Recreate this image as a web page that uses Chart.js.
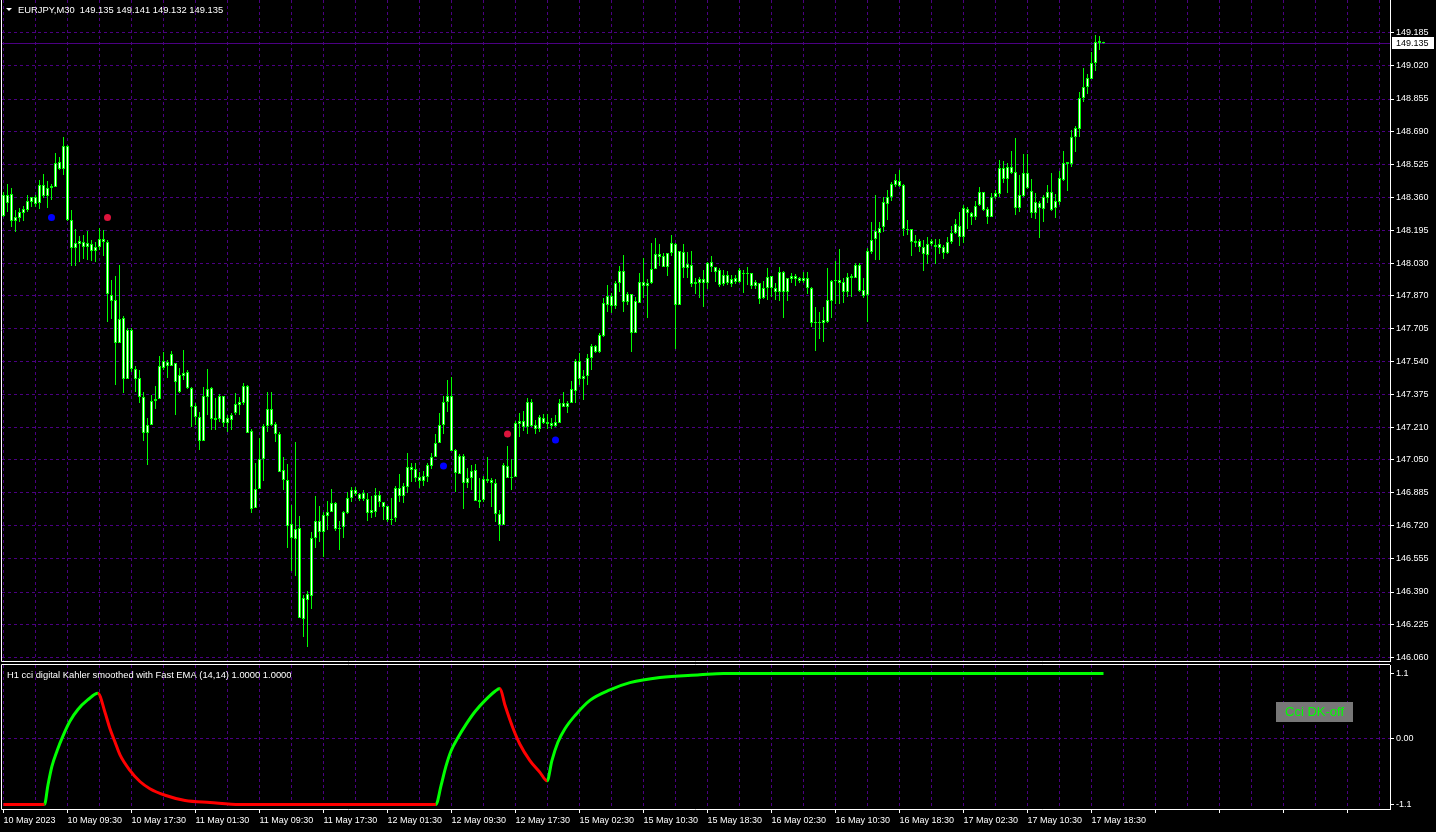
<!DOCTYPE html>
<html>
<head>
<meta charset="utf-8">
<title>EURJPY,M30</title>
<script src="https://cdn.jsdelivr.net/npm/chart.js@4.4.0/dist/chart.umd.min.js"></script>
<style>
  html, body { margin: 0; padding: 0; background: #000; }
  body { width: 1436px; height: 832px; position: relative; overflow: hidden; }
  #priceChart { position: absolute; left: 0; top: 0; }
  #cciChart { position: absolute; left: 0; top: 662px; }
</style>
</head>
<body>
<canvas id="priceChart" width="1436" height="662"></canvas>
<canvas id="cciChart" width="1436" height="170"></canvas>
<script>
const symbol = "EURJPY,M30";

// one label every 16 bars (8 hours of M30)
const timeLabels = ["10 May 2023", "10 May 09:30", "10 May 17:30", "11 May 01:30", "11 May 09:30",
  "11 May 17:30", "12 May 01:30", "12 May 09:30", "12 May 17:30", "15 May 02:30", "15 May 10:30",
  "15 May 18:30", "16 May 02:30", "16 May 10:30", "16 May 18:30", "17 May 02:30", "17 May 10:30",
  "17 May 18:30"];

const priceTicks = [146.060, 146.225, 146.390, 146.555, 146.720, 146.885, 147.050, 147.210, 147.375,
  147.540, 147.705, 147.870, 148.030, 148.195, 148.360, 148.525, 148.690, 148.855, 149.020, 149.185];

const open = [148.270,148.375,148.380,148.245,148.260,148.285,148.300,148.340,148.330,148.335,
148.425,148.370,148.410,148.415,148.505,148.505,148.620,148.250,148.110,148.145,
148.140,148.135,148.130,148.095,148.115,148.155,148.140,147.875,147.850,147.635,
147.760,147.455,147.700,147.505,147.460,147.365,147.185,147.225,147.345,147.355,
147.510,147.520,147.580,147.535,147.390,147.485,147.490,147.410,147.320,147.265,
147.145,147.405,147.410,147.250,147.255,147.370,147.235,147.250,147.285,147.325,
147.335,147.420,147.195,146.810,146.905,147.055,147.220,147.305,147.230,147.180,
147.000,146.950,146.730,146.655,146.710,146.255,146.350,146.370,146.660,146.690,
146.690,146.770,146.790,146.835,146.705,146.715,146.785,146.860,146.900,146.880,
146.885,146.855,146.785,146.790,146.875,146.840,146.820,146.750,146.760,146.870,
146.870,146.915,147.015,147.005,146.945,146.945,146.965,147.020,147.065,147.135,
147.225,147.340,147.370,147.100,146.980,147.070,146.935,146.995,147.000,146.840,
146.850,146.955,146.950,146.935,146.780,146.725,147.020,146.960,146.965,147.245,
147.215,147.215,147.340,147.205,147.205,147.260,147.240,147.220,147.220,147.235,
147.315,147.315,147.335,147.395,147.545,147.455,147.470,147.560,147.590,147.590,
147.670,147.825,147.820,147.820,147.935,147.995,147.840,147.880,147.685,147.835,
147.940,147.920,147.935,148.005,148.080,148.070,148.015,148.085,148.130,147.825,
148.090,148.030,148.025,147.930,147.935,147.935,147.935,148.040,148.015,148.000,
147.930,147.975,147.930,147.940,147.940,147.985,147.980,147.985,147.940,147.935,
147.860,147.910,147.970,147.890,147.890,147.990,147.890,147.955,147.970,147.945,
147.960,147.960,147.910,147.740,147.735,147.735,147.740,147.845,147.945,147.950,
147.940,147.890,147.960,147.960,148.025,147.900,147.875,148.090,148.155,148.185,
148.215,148.330,148.365,148.425,148.445,148.425,148.205,148.205,148.145,148.145,
148.115,148.075,148.130,148.125,148.110,148.115,148.085,148.140,148.185,148.220,
148.165,148.305,148.285,148.265,148.325,148.390,148.305,148.265,148.365,148.380,
148.510,148.455,148.515,148.490,148.310,148.370,148.485,148.395,148.285,148.310,
148.305,148.360,148.390,148.310,148.340,148.450,148.530,148.530,148.665,148.705,
148.860,148.915,148.955,149.035,149.145,149.135];

const high = [148.390,148.430,148.410,148.300,148.310,148.320,148.375,148.365,148.375,148.450,
148.480,148.445,148.430,148.585,148.565,148.665,148.625,148.300,148.205,148.170,
148.175,148.195,148.150,148.140,148.210,148.200,148.150,147.950,147.970,148.025,
147.770,147.710,147.710,147.520,147.500,147.390,147.260,147.375,147.420,147.570,
147.590,147.550,147.595,147.535,147.510,147.600,147.500,147.415,147.335,147.290,
147.415,147.505,147.415,147.360,147.380,147.370,147.275,147.285,147.385,147.365,
147.435,147.425,147.205,147.035,147.160,147.230,147.390,147.390,147.240,147.190,
147.065,147.030,146.825,147.140,146.770,146.375,146.395,146.690,146.870,146.820,
146.790,146.845,146.905,146.840,146.745,146.795,146.890,146.915,146.915,146.885,
146.900,146.885,146.870,146.910,146.895,146.840,146.820,146.860,146.920,146.980,
146.935,147.085,147.035,147.035,146.990,146.995,147.035,147.085,147.180,147.285,
147.370,147.450,147.465,147.105,147.080,147.080,147.010,147.025,147.030,146.960,
146.970,147.065,146.960,146.955,146.800,147.035,147.120,147.055,147.245,147.285,
147.295,147.360,147.355,147.250,147.275,147.280,147.280,147.260,147.275,147.355,
147.390,147.345,147.445,147.555,147.585,147.500,147.580,147.630,147.625,147.685,
147.860,147.925,147.885,147.945,148.020,148.075,147.890,147.880,147.865,147.985,
148.060,147.955,148.135,148.160,148.130,148.085,148.085,148.175,148.135,148.095,
148.130,148.090,148.095,147.960,147.965,148.000,148.040,148.070,148.015,148.010,
148.000,147.995,147.975,147.975,148.010,148.000,148.015,147.985,147.950,147.935,
147.945,148.010,147.970,147.935,148.015,147.995,147.960,147.985,147.980,147.965,
147.990,147.990,147.915,147.815,147.790,147.815,148.010,147.950,148.045,148.105,
147.960,147.985,147.980,148.035,148.035,147.960,148.110,148.240,148.375,148.240,
148.365,148.400,148.440,148.480,148.500,148.430,148.250,148.205,148.175,148.155,
148.150,148.165,148.155,148.155,148.155,148.125,148.165,148.220,148.255,148.290,
148.325,148.315,148.290,148.345,148.415,148.390,148.315,148.385,148.400,148.550,
148.545,148.535,148.595,148.660,148.475,148.580,148.580,148.455,148.385,148.345,
148.375,148.425,148.485,148.380,148.495,148.595,148.540,148.700,148.720,148.890,
149.010,148.980,149.090,149.175,149.170,149.141];

const low = [148.265,148.290,148.215,148.190,148.240,148.245,148.290,148.315,148.315,148.305,
148.360,148.310,148.350,148.415,148.500,148.475,148.245,148.020,148.020,148.040,
148.055,148.050,148.045,148.040,148.100,148.070,147.740,147.755,147.425,147.635,
147.385,147.455,147.490,147.390,147.335,147.145,147.025,147.225,147.305,147.355,
147.500,147.460,147.520,147.275,147.385,147.450,147.405,147.215,147.225,147.100,
147.145,147.275,147.200,147.200,147.240,147.215,147.190,147.200,147.275,147.275,
147.325,147.185,146.785,146.810,146.905,146.945,147.190,147.220,147.140,146.990,
146.900,146.610,146.495,146.470,146.260,146.165,146.115,146.305,146.610,146.640,
146.565,146.700,146.790,146.695,146.600,146.660,146.780,146.840,146.870,146.845,
146.845,146.745,146.760,146.765,146.815,146.750,146.740,146.725,146.740,146.840,
146.835,146.885,146.940,146.940,146.910,146.920,146.940,147.005,147.065,147.135,
147.180,147.290,147.095,146.890,146.980,146.805,146.910,146.900,146.845,146.810,
146.840,146.935,146.815,146.740,146.645,146.725,146.960,146.900,146.965,147.165,
147.195,147.180,147.215,147.180,147.190,147.230,147.205,147.205,147.215,147.235,
147.315,147.285,147.335,147.335,147.425,147.350,147.425,147.500,147.585,147.585,
147.665,147.790,147.785,147.805,147.890,147.790,147.825,147.590,147.685,147.835,
147.860,147.760,147.930,148.005,148.020,148.015,147.970,148.070,147.605,147.825,
147.960,147.960,147.915,147.880,147.860,147.815,147.905,147.990,147.940,147.915,
147.920,147.925,147.915,147.930,147.935,147.885,147.925,147.905,147.905,147.830,
147.855,147.850,147.865,147.850,147.845,147.760,147.845,147.935,147.920,147.935,
147.935,147.880,147.715,147.595,147.655,147.640,147.735,147.760,147.830,147.830,
147.835,147.865,147.865,147.960,147.890,147.860,147.740,148.080,148.050,148.050,
148.190,148.250,148.345,148.415,148.415,148.170,148.175,148.070,148.115,148.090,
147.995,148.030,148.120,148.030,148.080,148.055,148.080,148.130,148.180,148.120,
148.135,148.205,148.225,148.250,148.320,148.295,148.230,148.265,148.355,148.365,
148.435,148.385,148.480,148.275,148.290,148.365,148.405,148.260,148.255,148.160,
148.240,148.335,148.295,148.260,148.325,148.445,148.395,148.515,148.590,148.665,
148.840,148.880,148.955,148.995,149.100,149.132];

const close = [148.375,148.335,148.245,148.265,148.290,148.305,148.345,148.365,148.365,148.425,
148.370,148.410,148.420,148.535,148.540,148.620,148.250,148.110,148.135,148.130,
148.115,148.115,148.095,148.115,148.155,148.140,147.880,147.845,147.635,147.755,
147.455,147.700,147.505,147.455,147.365,147.185,147.225,147.345,147.355,147.520,
147.545,147.540,147.520,147.440,147.475,147.470,147.410,147.315,147.265,147.145,
147.370,147.365,147.255,147.260,147.370,147.235,147.260,147.275,147.330,147.340,
147.420,147.185,146.805,146.905,147.055,147.220,147.305,147.225,147.180,146.990,
146.950,146.720,146.660,146.705,146.260,146.360,146.380,146.660,146.745,146.745,
146.775,146.790,146.835,146.705,146.710,146.790,146.860,146.900,146.880,146.855,
146.855,146.785,146.800,146.875,146.840,146.815,146.750,146.755,146.910,146.910,
146.920,147.015,147.000,146.960,146.965,146.970,147.025,147.065,147.135,147.225,
147.340,147.370,147.095,146.985,147.070,146.935,146.960,146.960,146.845,146.850,
146.955,146.945,146.935,146.780,146.725,147.025,146.960,146.965,147.235,147.230,
147.245,147.340,147.220,147.225,147.265,147.235,147.230,147.235,147.240,147.335,
147.335,147.335,147.405,147.545,147.455,147.470,147.560,147.620,147.620,147.675,
147.835,147.870,147.870,147.935,147.995,147.840,147.880,147.685,147.845,147.940,
147.920,147.935,148.005,148.080,148.065,148.015,148.085,148.135,147.825,148.095,
148.010,148.010,147.930,147.940,147.955,147.955,148.035,148.015,147.990,147.925,
147.975,147.935,147.955,147.960,148.000,147.980,147.985,147.920,147.920,147.855,
147.910,147.965,147.910,147.910,147.990,147.890,147.960,147.970,147.955,147.960,
147.945,147.910,147.735,147.735,147.740,147.750,147.850,147.945,147.950,147.935,
147.890,147.965,147.970,148.025,147.895,147.870,148.095,148.150,148.195,148.210,
148.340,148.365,148.430,148.450,148.420,148.205,148.200,148.140,148.135,148.115,
148.080,148.130,148.145,148.115,148.130,148.085,148.140,148.185,148.230,148.165,
148.310,148.285,148.265,148.320,148.390,148.300,148.265,148.365,148.385,148.510,
148.455,148.515,148.485,148.310,148.375,148.485,148.410,148.285,148.340,148.335,
148.365,148.390,148.300,148.345,148.460,148.535,148.540,148.665,148.710,148.860,
148.915,148.960,149.035,149.140,149.135,149.135];

// signal dots (bar index, price)
const buyIdx = [12, 110, 138];
const buyPrice = [148.262, 147.020, 147.150];
const sellIdx = [26, 126];
const sellPrice = [148.262, 147.180];

// H1 cci digital Kahler smoothed line (bar index, value)
const cciIdx = [0, 10.25, 11.1, 12.1, 13.4, 14.9, 16.6, 18.6, 21.1, 23.6,
  25.4, 26.6, 27.9, 29.1, 31.6, 34.1, 36.6, 40.4, 45.4, 51.6,
  59.1, 108.1, 109.4, 110.6, 111.9, 113.6, 115.6, 117.9, 120.4, 122.9,
  124.1, 125.4, 127.4, 129.1, 131.6, 134.1, 135.9, 137.1, 138.6, 140.4,
  142.9, 146.6, 151.6, 156.6, 164.1, 174.1, 180, 275];
const cciVal = [-1, -1, -0.71, -0.42, -0.18, 0.05, 0.27, 0.45, 0.60, 0.70,
  0.40, 0.16, -0.05, -0.24, -0.48, -0.65, -0.76, -0.86, -0.94, -0.97,
  -1, -1, -0.71, -0.42, -0.18, 0.02, 0.22, 0.42, 0.59, 0.73,
  0.77, 0.51, 0.16, -0.08, -0.33, -0.51, -0.64, -0.33, -0.05, 0.16,
  0.36, 0.59, 0.75, 0.86, 0.94, 0.98, 1, 1];
const cciTickPos = [-1, 0, 1];
const cciTickLabels = ["-1.1", "0.00", "1.1"];

const GRID = "#4b0082";
const LIME = "#00ff00";
const FONT = "Liberation Sans";
const xMin = -0.375, xMax = 346.625;   // 4 px per bar
const gridIdx = [];
for (let i = 0; i <= 344; i += 8) gridIdx.push(i);

Chart.defaults.font.family = FONT;
Chart.defaults.font.size = 9;
Chart.defaults.color = "#ffffff";

const last = close.length - 1;

// keep the plot area exactly where the terminal draws it
function noPadding(s) {
  s.paddingTop = 0;
  s.paddingBottom = 0;
  s.paddingLeft = 0;
  s.paddingRight = 0;
}

const priceOverlay = {
  id: "priceOverlay",
  beforeDatasetsDraw(chart) {
    const { ctx, chartArea: a, scales: { y } } = chart;
    const bidY = Math.round(y.getPixelForValue(close[last])) + 0.5;
    ctx.save();
    ctx.strokeStyle = GRID;
    ctx.lineWidth = 1;
    ctx.beginPath();
    ctx.moveTo(a.left, bidY);
    ctx.lineTo(a.right, bidY);
    ctx.stroke();
    ctx.restore();
  },
  afterDraw(chart) {
    const { ctx, chartArea: a, scales: { y } } = chart;
    ctx.save();
    ctx.strokeStyle = "#ffffff";
    ctx.lineWidth = 1;
    ctx.beginPath();
    ctx.moveTo(1.5, 0);
    ctx.lineTo(1.5, a.bottom + 0.5);
    ctx.lineTo(a.right, a.bottom + 0.5);
    ctx.stroke();

    ctx.fillStyle = "#ffffff";
    ctx.beginPath();
    ctx.moveTo(6, 8);
    ctx.lineTo(12, 8);
    ctx.lineTo(9, 11);
    ctx.closePath();
    ctx.fill();
    ctx.font = "9.4px '" + FONT + "'";
    ctx.textBaseline = "middle";
    ctx.fillText(symbol + "  " + open[last].toFixed(3) + " " + high[last].toFixed(3) + " " +
      low[last].toFixed(3) + " " + close[last].toFixed(3), 18, 10);

    const bidY = Math.round(y.getPixelForValue(close[last]));
    ctx.font = "9px '" + FONT + "'";
    ctx.fillRect(1392, bidY - 6, 42, 12);
    ctx.fillStyle = "#000000";
    ctx.fillText(close[last].toFixed(3), 1396, bidY + 0.5);
    ctx.restore();
  }
};

new Chart(document.getElementById("priceChart"), {
  type: "bar",
  data: {
    datasets: [
      {
        label: "wick",
        data: low.map((l, i) => ({ x: i, y: [l, high[i]] })),
        backgroundColor: LIME,
        barThickness: 1,
        inflateAmount: 0,
        grouped: false,
        order: 3
      },
      {
        label: "body",
        data: open.map((o, i) => ({ x: i, y: [o, close[i]] })),
        backgroundColor: "#ffffff",
        borderColor: LIME,
        borderWidth: 1,
        borderSkipped: false,
        barThickness: 3,
        minBarLength: 1,
        inflateAmount: 0,
        grouped: false,
        order: 2
      },
      {
        type: "scatter",
        label: "buy",
        data: buyIdx.map((x, i) => ({ x, y: buyPrice[i] })),
        backgroundColor: "#0000ff",
        borderWidth: 0,
        pointRadius: 3.5,
        order: 1
      },
      {
        type: "scatter",
        label: "sell",
        data: sellIdx.map((x, i) => ({ x, y: sellPrice[i] })),
        backgroundColor: "#dc143c",
        borderWidth: 0,
        pointRadius: 3.5,
        order: 1
      }
    ]
  },
  options: {
    responsive: false,
    animation: false,
    devicePixelRatio: 1,
    layout: { autoPadding: false, padding: { left: 2, top: 0, right: 0, bottom: 0 } },
    plugins: { legend: { display: false }, tooltip: { enabled: false } },
    scales: {
      x: {
        type: "linear",
        min: xMin,
        max: xMax,
        offset: false,
        afterBuildTicks: (s) => { s.ticks = gridIdx.map((v) => ({ value: v })); },
        afterFit: (s) => { s.height = 1; noPadding(s); },
        grid: { color: GRID, offset: false, drawTicks: false },
        border: { display: false, dash: [3, 3] },
        ticks: { display: false }
      },
      y: {
        position: "right",
        min: 146.045,
        max: 149.350,
        afterBuildTicks: (s) => { s.ticks = priceTicks.map((v) => ({ value: v })); },
        afterFit: (s) => { s.width = 46; noPadding(s); },
        grid: { color: GRID, tickColor: "#ffffff", tickLength: 4 },
        border: { color: "#ffffff", dash: [3, 3] },
        ticks: { color: "#ffffff", padding: 2, callback: (v) => v.toFixed(3) }
      }
    }
  },
  plugins: [priceOverlay]
});

const cciOverlay = {
  id: "cciOverlay",
  afterDraw(chart) {
    const { ctx, chartArea: a } = chart;
    ctx.save();
    ctx.strokeStyle = "#ffffff";
    ctx.lineWidth = 1;
    ctx.beginPath();
    ctx.moveTo(a.right, a.top - 0.5);
    ctx.lineTo(1.5, a.top - 0.5);
    ctx.lineTo(1.5, a.bottom + 0.5);
    ctx.lineTo(a.right, a.bottom + 0.5);
    ctx.stroke();

    ctx.fillStyle = "#ffffff";
    ctx.font = "9.4px '" + FONT + "'";
    ctx.textBaseline = "middle";
    ctx.fillText("H1 cci digital Kahler smoothed with Fast EMA (14,14) 1.0000 1.0000", 7, 13);

    ctx.fillStyle = "#777777";
    ctx.fillRect(1276, 40, 77, 20);
    ctx.fillStyle = LIME;
    ctx.font = "13px '" + FONT + "'";
    ctx.textAlign = "center";
    ctx.fillText("Cci DK-off", 1314.5, 50.5);
    ctx.restore();
  }
};

new Chart(document.getElementById("cciChart"), {
  type: "line",
  data: {
    datasets: [{
      data: cciIdx.map((x, i) => ({ x, y: cciVal[i] })),
      borderWidth: 3,
      pointRadius: 0,
      cubicInterpolationMode: "monotone",
      segment: {
        borderColor: (c) => {
          const a = c.p0.parsed.y, b = c.p1.parsed.y;
          if (b > a) return LIME;
          if (b < a) return "#ff0000";
          return b > 0 ? LIME : "#ff0000";
        }
      }
    }]
  },
  options: {
    responsive: false,
    animation: false,
    devicePixelRatio: 1,
    layout: { autoPadding: false, padding: { left: 2, top: 3, right: 0, bottom: 0 } },
    plugins: { legend: { display: false }, tooltip: { enabled: false } },
    scales: {
      x: {
        type: "linear",
        min: xMin,
        max: xMax,
        afterBuildTicks: (s) => { s.ticks = gridIdx.map((v) => ({ value: v })); },
        afterFit: (s) => { s.height = 23; noPadding(s); },
        grid: {
          color: GRID,
          offset: false,
          tickLength: 4,
          tickColor: (c) => (c.tick && c.tick.value % 16 === 0 ? "#ffffff" : "transparent")
        },
        border: { display: false, dash: [3, 3] },
        ticks: {
          color: "#ffffff",
          align: "start",
          padding: 2,
          maxRotation: 0,
          autoSkip: false,
          callback: (v) => (v % 16 === 0 && timeLabels[v / 16]) ? timeLabels[v / 16] : ""
        }
      },
      y: {
        position: "right",
        min: -1.07,
        max: 1.13,
        afterBuildTicks: (s) => { s.ticks = cciTickPos.map((v) => ({ value: v })); },
        afterFit: (s) => { s.width = 46; noPadding(s); },
        grid: {
          color: (c) => (c.tick && c.tick.value === 0 ? GRID : "transparent"),
          tickColor: "#ffffff",
          tickLength: 4
        },
        border: { color: "#ffffff", dash: [3, 3] },
        ticks: {
          color: "#ffffff",
          padding: 2,
          callback: (v) => cciTickLabels[cciTickPos.indexOf(v)]
        }
      }
    }
  },
  plugins: [cciOverlay]
});
</script>
</body>
</html>
